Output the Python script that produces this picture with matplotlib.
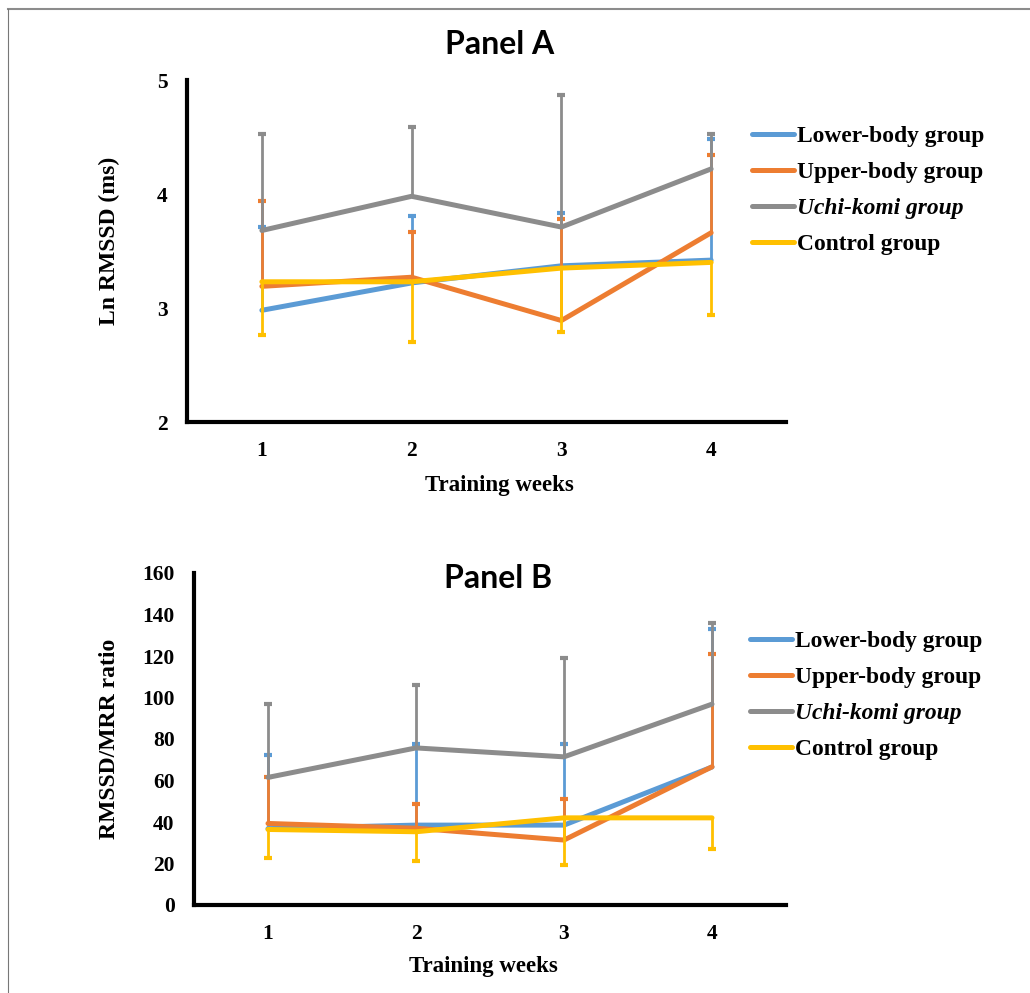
"""Two-panel line chart of HRV indices across four training weeks."""

import matplotlib

matplotlib.use("Agg")
import matplotlib.pyplot as plt
from matplotlib.lines import Line2D
import numpy as np

# ---------------------------------------------------------------------------
# Data
# ---------------------------------------------------------------------------
WEEKS = [1, 2, 3, 4]
GROUPS = ["Lower-body group", "Upper-body group", "Uchi-komi group", "Control group"]

# Panel A: Ln RMSSD (ms), mean and SD
LOWER_A_MEAN = [2.98, 3.22, 3.37, 3.42]
LOWER_A_SD = [0.73, 0.59, 0.46, 1.06]
UPPER_A_MEAN = [3.19, 3.27, 2.89, 3.66]
UPPER_A_SD = [0.75, 0.40, 0.89, 0.68]
UCHI_A_MEAN = [3.68, 3.98, 3.71, 4.22]
UCHI_A_SD = [0.85, 0.61, 1.16, 0.31]
CONTROL_A_MEAN = [3.23, 3.23, 3.35, 3.40]
CONTROL_A_SD = [0.47, 0.53, 0.56, 0.46]

# Panel B: RMSSD/MRR ratio, mean and SD
LOWER_B_MEAN = [36.8, 38.5, 38.5, 66.5]
LOWER_B_SD = [35.6, 39.3, 38.9, 66.5]
UPPER_B_MEAN = [39.3, 37.0, 31.3, 66.6]
UPPER_B_SD = [22.2, 11.6, 19.6, 54.2]
UCHI_B_MEAN = [61.5, 75.7, 71.4, 96.8]
UCHI_B_SD = [35.3, 30.1, 47.6, 39.1]
CONTROL_B_MEAN = [36.4, 35.3, 42.0, 42.0]
CONTROL_B_SD = [13.9, 14.0, 22.9, 14.9]

# Direction of the visible error bar for each group (+1 up, -1 down)
ERR_DIRECTION = [1, 1, 1, -1]

COLORS = ["#5B9BD5", "#ED7D31", "#8C8C8C", "#FFC000"]

SERIF = "Liberation Serif"
TITLE_FONT = "Lato"
LINE_W = 3.6
ERR_W = 2.0
SPINE_W = 3.0

W, H = 1030, 993


def fig_box(left, top, right, bottom):
    """Pixel box -> figure fraction [l, b, w, h]."""
    return [left / W, 1 - bottom / H, (right - left) / W, (bottom - top) / H]


def draw_panel(ax, means, sds, ylim, yticks, xlabel_x):
    x = np.array(WEEKS)
    for i, (m, s) in enumerate(zip(means, sds)):
        m = np.array(m)
        s = np.array(s)
        end = m + ERR_DIRECTION[i] * s
        z = 2 + i
        ax.vlines(x, m, end, colors=COLORS[i], linewidth=ERR_W, zorder=z)
        ax.plot(x, end, linestyle="none", marker="_", markersize=6,
                markeredgewidth=3, color=COLORS[i], zorder=z)
        ax.plot(x, m, color=COLORS[i], linewidth=LINE_W, zorder=z + 0.5,
                solid_capstyle="round")

    ax.set_xlim(0.5, 4.5)
    ax.set_ylim(*ylim)
    ax.set_xticks(WEEKS)
    ax.set_yticks(yticks)
    ax.tick_params(length=0, labelsize=15.5, pad=14)
    for lab in ax.get_xticklabels() + ax.get_yticklabels():
        lab.set_fontfamily(SERIF)
        lab.set_fontweight("bold")
    for side in ("top", "right"):
        ax.spines[side].set_visible(False)
    for side in ("left", "bottom"):
        ax.spines[side].set_linewidth(SPINE_W)
        ax.spines[side].set_color("black")
    ax.set_xlabel("Training weeks", fontfamily=SERIF, fontweight="bold",
                  fontsize=16.5)
    ax.xaxis.set_label_coords(xlabel_x, -0.155)


def add_legend(fig, x_px, y_px):
    handles = [Line2D([0], [0], color=c, linewidth=LINE_W, solid_capstyle="round")
               for c in COLORS]
    leg = fig.legend(handles, GROUPS, loc="upper left",
                     bbox_to_anchor=(x_px / W, 1 - y_px / H),
                     frameon=False, borderpad=0, borderaxespad=0,
                     handlelength=1.78, handletextpad=0.13, labelspacing=0.62,
                     prop={"family": SERIF, "weight": "bold", "size": 16.9})
    leg.get_texts()[2].set_fontstyle("italic")
    return leg


def main():
    fig = plt.figure(figsize=(W / 100, H / 100), dpi=100)

    # thin grey frame (top and left edges)
    fig.add_artist(Line2D([8 / W, 1], [1 - 9 / H, 1 - 9 / H], color="#8C8C8C",
                          linewidth=1.5, transform=fig.transFigure))
    fig.add_artist(Line2D([8 / W, 8 / W], [0, 1 - 9 / H], color="#777777",
                          linewidth=0.8, transform=fig.transFigure))

    ax_a = fig.add_axes(fig_box(187, 80, 786, 422))
    draw_panel(ax_a,
               [LOWER_A_MEAN, UPPER_A_MEAN, UCHI_A_MEAN, CONTROL_A_MEAN],
               [LOWER_A_SD, UPPER_A_SD, UCHI_A_SD, CONTROL_A_SD],
               (2, 5), [2, 3, 4, 5], (499 - 187) / 599)
    ax_a.set_ylabel("Ln RMSSD (ms)", fontfamily=SERIF, fontweight="bold",
                    fontsize=17)
    ax_a.yaxis.set_label_coords(-0.112, 0.53)

    ax_b = fig.add_axes(fig_box(194, 573, 786, 905))
    draw_panel(ax_b,
               [LOWER_B_MEAN, UPPER_B_MEAN, UCHI_B_MEAN, CONTROL_B_MEAN],
               [LOWER_B_SD, UPPER_B_SD, UCHI_B_SD, CONTROL_B_SD],
               (0, 160), list(range(0, 161, 20)), (483 - 194) / 592)
    ax_b.set_ylabel("RMSSD/MRR ratio", fontfamily=SERIF, fontweight="bold",
                    fontsize=17)
    ax_b.yaxis.set_label_coords(-0.125, 0.5)

    fig.text(500 / W, 1 - 45 / H, "Panel A", ha="center", va="center",
             fontfamily=TITLE_FONT, fontweight="bold", fontsize=23)
    fig.text(498 / W, 1 - 579 / H, "Panel B", ha="center", va="center",
             fontfamily=TITLE_FONT, fontweight="bold", fontsize=23)

    add_legend(fig, 752, 126)
    add_legend(fig, 750, 631)

    fig.savefig("out.png", dpi=100)


if __name__ == "__main__":
    main()
